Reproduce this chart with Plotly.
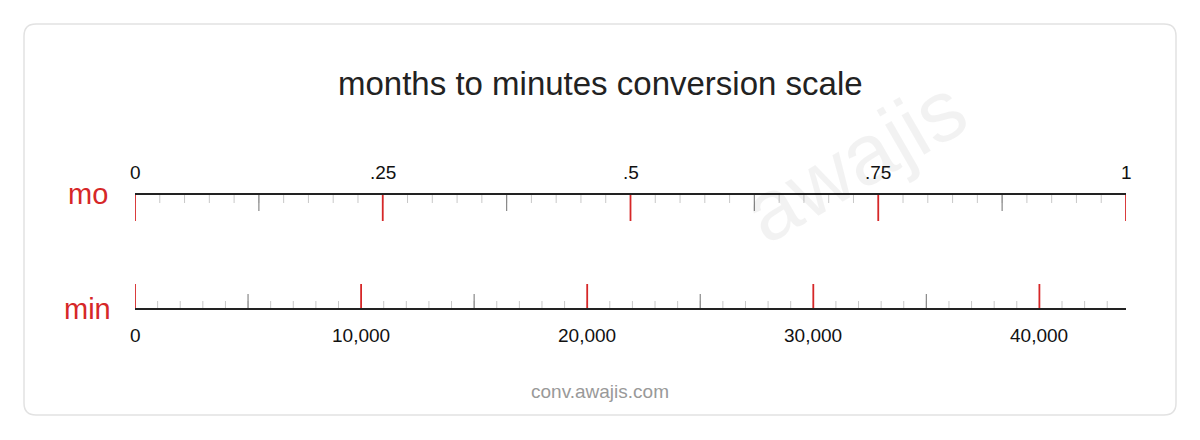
import plotly.graph_objects as go

title = "months to minutes conversion scale"
mo_major = [0, 0.25, 0.5, 0.75, 1]
mo_major_labels = ["0", ".25", ".5", ".75", "1"]
mo_mid = [0.125, 0.375, 0.625, 0.875]
mo_minor = [i / 40 for i in range(41)]
min_per_month = 43830
min_major = [0, 10000, 20000, 30000, 40000]
min_major_labels = ["0", "10,000", "20,000", "30,000", "40,000"]
min_mid = [5000, 15000, 25000, 35000]
min_minor = list(range(0, 44000, 1000))

RED = "#d62728"
L, R = 135, 1126
W, H = 1200, 440
O = 8  # page offset

def segs(xs, y0, y1):
    X, Y = [], []
    for v in xs:
        X += [v, v, None]; Y += [y0, y1, None]
    return X, Y

fig = go.Figure()
def add(xs, y0, y1, color, width, axis):
    X, Y = segs(xs, y0, y1)
    fig.add_trace(go.Scatter(x=X, y=Y, mode="lines", line=dict(color=color, width=width),
                             xaxis=axis, hoverinfo="skip", showlegend=False, cliponaxis=False))

add(mo_minor, 194, 203, "#c8c8c8", 1, "x")
add(mo_mid, 194, 211, "#888", 1.2, "x")
add(mo_major, 194, 221, RED, 1.8, "x")
fig.add_trace(go.Scatter(x=[0, 1], y=[194, 194], mode="lines", line=dict(color="#222", width=2),
                         xaxis="x", hoverinfo="skip", showlegend=False, cliponaxis=False))
add(min_minor, 309, 301, "#c8c8c8", 1, "x2")
add(min_mid, 309, 294, "#888", 1.2, "x2")
add(min_major, 309, 284, RED, 1.8, "x2")
fig.add_trace(go.Scatter(x=[0, min_per_month], y=[309, 309], mode="lines", line=dict(color="#222", width=2),
                         xaxis="x2", hoverinfo="skip", showlegend=False, cliponaxis=False))

ann = []
for v, t in zip(mo_major, mo_major_labels):
    ann.append(dict(x=v, y=172, xref="x", yref="y", text=t, showarrow=False,
                    font=dict(size=19, color="#111")))
for v, t in zip(min_major, min_major_labels):
    ann.append(dict(x=v, y=335, xref="x2", yref="y", text=t, showarrow=False,
                    font=dict(size=19, color="#111")))

def px(p):
    return (p - L) / (R - L)

ann += [
    dict(x=px(600), y=83, xref="paper", yref="y", text=title, showarrow=False,
         font=dict(size=33, color="#222")),
    dict(x=px(66), y=194, xref="paper", yref="y", text="mo", showarrow=False,
         font=dict(size=29, color=RED)),
    dict(x=px(62), y=309, xref="paper", yref="y", text="min", showarrow=False,
         font=dict(size=29, color=RED)),
    dict(x=px(600), y=391, xref="paper", yref="y", text="conv.awajis.com", showarrow=False,
         font=dict(size=19, color="#999")),
    dict(x=px(985), y=160, xref="paper", yref="y", text="awajis", showarrow=False, textangle=-30,
         font=dict(size=86, color="rgba(0,0,0,0.05)")),
]

x0, x1, y0, y1, r = px(24), px(1176), 24, 415, 12 / (R - L)
ry = 12
path = (f"M {x0+r},{y0} L {x1-r},{y0} Q {x1},{y0} {x1},{y0+ry} L {x1},{y1-ry} Q {x1},{y1} {x1-r},{y1} "
        f"L {x0+r},{y1} Q {x0},{y1} {x0},{y1-ry} L {x0},{y0+ry} Q {x0},{y0} {x0+r},{y0} Z")

fig.update_layout(
    width=W, height=H, margin=dict(l=L - O, r=W - R + O, t=0, b=0),
    paper_bgcolor="white", plot_bgcolor="white",
    font=dict(family="Liberation Sans, Arial, sans-serif"),
    xaxis=dict(range=[0, 1], visible=False, fixedrange=True),
    xaxis2=dict(range=[0, min_per_month], visible=False, overlaying="x", fixedrange=True),
    yaxis=dict(range=[H + O, O], visible=False, fixedrange=True),
    annotations=ann,
    shapes=[dict(type="path", path=path, xref="paper", yref="y", line=dict(color="#e2e2e2", width=1.5),
                 layer="below")],
)
fig.write_html("out.html", config={"displayModeBar": False})
